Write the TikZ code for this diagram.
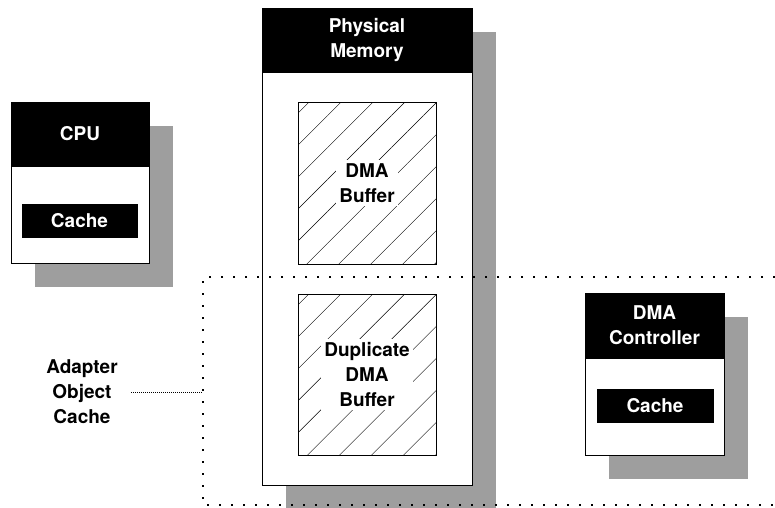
\documentclass[tikz,border=0pt]{standalone}
\usepackage{fontspec}
\setmainfont{TeX Gyre Heros}
\usepackage{tikz}
\usetikzlibrary{patterns.meta}

\begin{document}
\begin{tikzpicture}[x=1pt,y=-1pt]
                \tikzstyle{shadow}=[rectangle,fill=black!38,inner sep=0pt]
                \tikzstyle{box}=[rectangle,draw,fill=white,line width=0.8pt,inner sep=0pt]
                \tikzstyle{head}=[rectangle,draw,fill=black,text=white,inner sep=0pt,align=center,
                  font=\bfseries\fontsize{19}{25}\selectfont]
                \tikzstyle{buffer}=[rectangle,draw,line width=0.8pt,inner sep=0pt,
                  pattern={Lines[angle=45,distance=22.6pt,line width=0.4pt]}]
                \tikzstyle{label}=[align=center,font=\bfseries\fontsize{19}{25}\selectfont]
                \tikzstyle{dotbox}=[line width=2pt,dash pattern=on 2pt off 10pt]
                \tikzstyle{leader}=[line width=0.4pt,dash pattern=on 0.8pt off 1.2pt]
                \newcommand\hwbox[5]{\node[shadow,minimum width=#4pt,minimum height=#5pt] at (#2+24,#3+24) {};%
                \node[box,minimum width=#4pt,minimum height=#5pt] at (#2,#3) (#1) {};}
                \useasboundingbox (0,0) rectangle (775,507);
                \hwbox{cpu}{80}{182.5}{138}{161};
                \hwbox{mem}{367}{246.5}{210}{477};
                \hwbox{ctl}{654.5}{374}{139}{162};
                \node[head,minimum width=138pt,minimum height=64pt,anchor=north] at (cpu.north) (cpuhead) {CPU};
                \node[head,minimum width=115pt,minimum height=33pt] at (79.5,220.5) (cpucache) {Cache};
                \node[head,minimum width=210pt,minimum height=64pt,anchor=north] at (mem.north) (memhead) {Physical\\Memory};
                \node[buffer,minimum width=138pt,minimum height=162pt] at (367,183) (buf) {};
                \node[label,fill=white,inner sep=3pt] at (buf) {DMA\\Buffer};
                \node[buffer,minimum width=138pt,minimum height=161pt] at (367,374.5) (dup) {};
                \node[label,fill=white,inner sep=3pt] at (dup) {Duplicate\\DMA\\Buffer};
                \node[head,minimum width=139pt,minimum height=65pt,anchor=north] at (ctl.north) (ctlhead) {DMA\\Controller};
                \node[head,minimum width=116pt,minimum height=33pt] at (655,405.5) (ctlcache) {Cache};
                \coordinate (ne) at (775,277);
                \coordinate (nw) at (203,277);
                \coordinate (sw) at (203,505);
                \coordinate (se) at (775,505);
                \draw[dotbox] (ne) -- (nw) -- (sw) -- (se);
                \node[label] at (82,392) (aoc) {Adapter\\Object\\Cache};
                \draw[leader] ([xshift=10pt]aoc.east) -- (nw |- aoc.east);
            \end{tikzpicture}
\end{document}
